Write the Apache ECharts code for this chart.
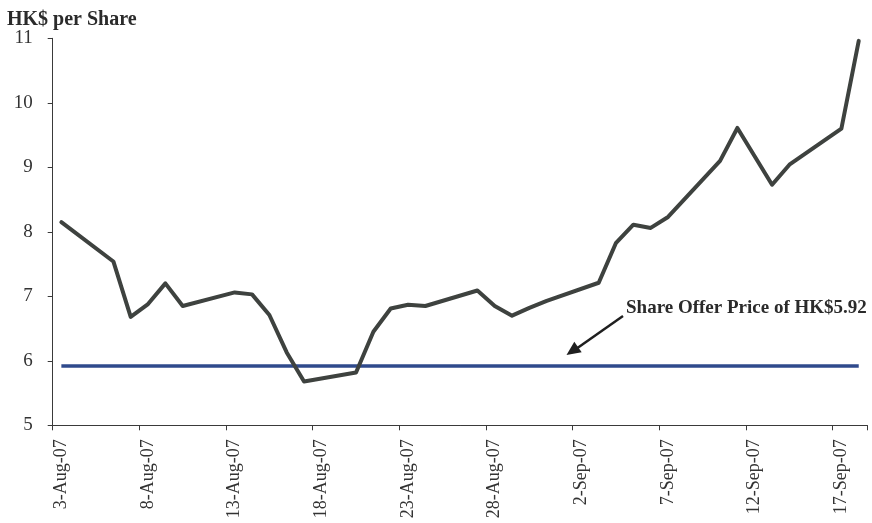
<!DOCTYPE html>
<html>
<head>
<meta charset="utf-8">
<script src="https://cdn.jsdelivr.net/npm/echarts@6/dist/echarts.min.js"></script>
<style>
html,body{margin:0;padding:0;background:#fff;}
#chart{width:872px;height:523px;}
</style>
</head>
<body>
<div id="chart"></div>
<script>
// Trading days and closing prices (HK$ per share)
var tradeDates = ['3-Aug-07','6-Aug-07','7-Aug-07','8-Aug-07','9-Aug-07','10-Aug-07',
  '13-Aug-07','14-Aug-07','15-Aug-07','16-Aug-07','17-Aug-07',
  '20-Aug-07','21-Aug-07','22-Aug-07','23-Aug-07','24-Aug-07',
  '27-Aug-07','28-Aug-07','29-Aug-07','30-Aug-07','31-Aug-07',
  '3-Sep-07','4-Sep-07','5-Sep-07','6-Sep-07','7-Sep-07',
  '10-Sep-07','11-Sep-07','13-Sep-07','14-Sep-07',
  '17-Sep-07','18-Sep-07'];
var prices = [8.15,7.54,6.68,6.88,7.20,6.85,
  7.06,7.03,6.71,6.13,5.68,
  5.82,6.45,6.81,6.87,6.85,
  7.09,6.85,6.70,6.82,6.93,
  7.21,7.83,8.11,8.06,8.23,
  9.10,9.61,8.73,9.04,
  9.60,10.96];
var offerPrice = 5.92;
var offerLabel = 'Share Offer Price of HK$5.92';
var yTicks = [5,6,7,8,9,10,11];
var yTitle = 'HK$ per Share';

// Calendar-day category axis from 3-Aug-07 to 18-Sep-07
var months = ['Jan','Feb','Mar','Apr','May','Jun','Jul','Aug','Sep','Oct','Nov','Dec'];
var categories = [];
(function(){
  var d = new Date(2007,7,3), end = new Date(2007,8,18);
  while (d <= end) {
    categories.push(d.getDate() + '-' + months[d.getMonth()] + '-07');
    d.setDate(d.getDate()+1);
  }
})();

var priceMap = {};
tradeDates.forEach(function(t,i){ priceMap[t] = prices[i]; });
var priceData = categories.map(function(c){ return priceMap.hasOwnProperty(c) ? priceMap[c] : null; });
var offerData = categories.map(function(c,i){ return (i===0 || i===categories.length-1) ? offerPrice : null; });

var FONT = 'Liberation Serif';
var chart = echarts.init(document.getElementById('chart'), null, {renderer:'canvas'});
chart.setOption({
  animation: false,
  backgroundColor: '#ffffff',
  grid: {left: 52.7, right: 4.6, top: 38.3, bottom: 97.7, containLabel: false},
  title: {
    text: yTitle, left: 7, top: 10, padding: 0,
    textStyle: {fontFamily: FONT, fontWeight: 'bold', fontSize: 20, color: '#2b2b2b'}
  },
  xAxis: {
    type: 'category',
    data: categories,
    boundaryGap: true,
    axisLine: {lineStyle: {color: '#3a3a3a', width: 1}},
    axisTick: {show: true, interval: 4, length: 5, inside: false, lineStyle: {color: '#3a3a3a'}},
    axisLabel: {interval: 4, rotate: 90, margin: 14, fontFamily: FONT, fontSize: 18, color: '#333'}
  },
  yAxis: {
    type: 'value',
    min: yTicks[0], max: yTicks[yTicks.length-1], interval: 1,
    axisLine: {show: true, lineStyle: {color: '#3a3a3a', width: 1}},
    axisTick: {show: true, length: 5, lineStyle: {color: '#3a3a3a'}},
    splitLine: {show: false},
    axisLabel: {margin: 20, fontFamily: FONT, fontSize: 19, color: '#333'}
  },
  series: [
    {
      name: 'Offer', type: 'line', data: offerData, connectNulls: true,
      symbol: 'none', lineStyle: {color: '#2f4a8c', width: 3.5}, z: 2
    },
    {
      name: 'Price', type: 'line', data: priceData, connectNulls: true,
      symbol: 'none', lineStyle: {color: '#3e423f', width: 4, join: 'round', cap: 'round'}, z: 3
    }
  ],
  graphic: [
    {type: 'text', left: 626, top: 299, style: {text: offerLabel, font: 'bold 19px "Liberation Serif"', fill: '#2b2b2b'}},
    {type: 'line', shape: {x1: 623, y1: 316, x2: 576, y2: 349}, style: {stroke: '#1f1f1f', lineWidth: 2.5}},
    {type: 'polygon', shape: {points: [[566.5,355],[574.3,341.8],[581.7,352.2]]}, style: {fill: '#1f1f1f'}}
  ]
});
</script>
</body>
</html>
